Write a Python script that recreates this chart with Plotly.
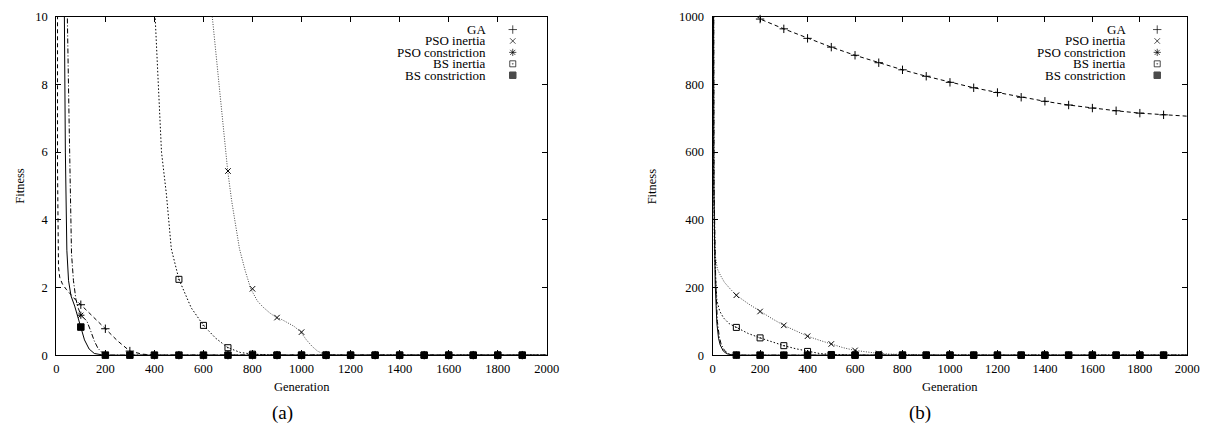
import plotly.graph_objects as go

# ---------------- data ----------------
SERIES = ["GA", "PSO inertia", "PSO constriction", "BS inertia", "BS constriction"]
GENS = [100, 200, 300, 400, 500, 600, 700, 800, 900, 1000,
        1100, 1200, 1300, 1400, 1500, 1600, 1700, 1800, 1900]
X_TICKS = [0, 200, 400, 600, 800, 1000, 1200, 1400, 1600, 1800, 2000]
Y_TICKS_A = [0, 2, 4, 6, 8, 10]
Y_TICKS_B = [0, 200, 400, 600, 800, 1000]

# panel (a) curves
a_ga_x = [0, 2, 5, 7, 9, 14, 25, 40, 60, 80, 100, 150, 200, 250, 300, 350, 400, 2000]
a_ga_y = [1000, 10, 5.5, 4, 2.6, 2.3, 2.1, 1.95, 1.78, 1.62, 1.49, 1.15, 0.78, 0.42, 0.12, 0.03, 0, 0]
a_psoi_x = [0, 600, 636, 660, 699, 715, 747, 770, 793, 820, 843, 870, 897, 920, 943, 970, 997,
            1020, 1043, 1065, 1082, 1100, 1150, 2000]
a_psoi_y = [1000, 14, 10, 8.3, 5.44, 4.56, 3.14, 2.5, 1.96, 1.6, 1.42, 1.25, 1.11, 1.05, 0.96, 0.85,
            0.68, 0.45, 0.26, 0.12, 0.06, 0.02, 0, 0]
a_psoc_x = [0, 45, 52, 58, 62, 70, 80, 90, 100, 112, 125, 140, 155, 170, 185, 200, 220, 2000]
a_psoc_y = [1000, 10, 7, 4.3, 3, 2.2, 1.65, 1.38, 1.18, 1.1, 1.0, 0.72, 0.42, 0.2, 0.09, 0.02, 0, 0]
a_bsi_x = [0, 380, 403, 429, 449, 469, 500, 550, 600, 650, 700, 750, 800, 850, 900, 2000]
a_bsi_y = [1000, 14, 10, 6, 4.75, 3.14, 2.24, 1.4, 0.88, 0.5, 0.22, 0.08, 0.03, 0.01, 0, 0]
a_bsc_x = [0, 33, 37, 40, 43, 50, 60, 75, 90, 100, 115, 134, 155, 185, 200, 2000]
a_bsc_y = [1000, 10, 6, 4.3, 3.1, 2.2, 1.75, 1.45, 1.05, 0.83, 0.45, 0.18, 0.05, 0.01, 0, 0]

# panel (a) point values at GENS (None = above the plotted range)
a_ga_pts = [1.49, 0.78, 0.12, 0, 0, 0, 0, 0, 0, 0, 0, 0, 0, 0, 0, 0, 0, 0, 0]
a_psoi_pts = [None, None, None, None, None, None, 5.44, 1.96, 1.11, 0.68, 0.02, 0, 0, 0, 0, 0, 0, 0, 0]
a_psoc_pts = [1.18, 0.02, 0, 0, 0, 0, 0, 0, 0, 0, 0, 0, 0, 0, 0, 0, 0, 0, 0]
a_bsi_pts = [None, None, None, None, 2.24, 0.88, 0.22, 0.03, 0, 0, 0, 0, 0, 0, 0, 0, 0, 0, 0]
a_bsc_pts = [0.83, 0, 0, 0, 0, 0, 0, 0, 0, 0, 0, 0, 0, 0, 0, 0, 0, 0, 0]

# panel (b) curves
b_ga_x = [0, 100, 185, 200, 300, 400, 500, 600, 700, 800, 900, 1000, 1100, 1200, 1300, 1400,
          1500, 1600, 1700, 1800, 1900, 2000]
b_ga_y = [2000, 1035, 1002, 993, 964, 936, 910, 886, 864, 843, 824, 806, 790, 776, 762, 750,
          739, 730, 722, 715, 710, 706]
b_psoi_x = [0, 3, 6, 11, 20, 32, 50, 75, 100, 150, 200, 250, 300, 350, 400, 450, 500, 550, 600,
            650, 700, 750, 800, 900, 1000, 2000]
b_psoi_y = [3000, 800, 450, 295, 255, 237, 215, 195, 177, 152, 129, 108, 88, 71, 56, 44, 33, 22, 14,
            9, 5, 3, 1.5, 0.3, 0, 0]
b_psoc_x = [0, 6, 13, 20, 28, 36, 50, 65, 85, 110, 130, 2000]
b_psoc_y = [3000, 500, 220, 100, 55, 32, 14, 5, 1.2, 0.2, 0, 0]
b_bsi_x = [0, 3, 8, 18, 30, 46, 70, 100, 150, 200, 250, 300, 350, 400, 450, 500, 550, 600, 700, 2000]
b_bsi_y = [3000, 600, 300, 161, 130, 110, 93, 82, 64, 51, 39, 28, 19, 11, 5, 2, 0.8, 0.2, 0, 0]
b_bsc_x = [0, 5, 11, 18, 25, 32, 45, 60, 80, 100, 120, 2000]
b_bsc_y = [3000, 500, 209, 94, 50, 30, 12, 4, 1, 0.2, 0, 0]

b_ga_pts = [None, 993, 964, 936, 910, 886, 864, 843, 824, 806, 790, 776, 762, 750, 739, 730, 722, 715, 710]
b_psoi_pts = [177, 129, 88, 56, 33, 14, 5, 1.5, 0.3, 0, 0, 0, 0, 0, 0, 0, 0, 0, 0]
b_psoc_pts = [0.2, 0, 0, 0, 0, 0, 0, 0, 0, 0, 0, 0, 0, 0, 0, 0, 0, 0, 0]
b_bsi_pts = [82, 51, 28, 11, 2, 0.2, 0, 0, 0, 0, 0, 0, 0, 0, 0, 0, 0, 0, 0]
b_bsc_pts = [0.2, 0, 0, 0, 0, 0, 0, 0, 0, 0, 0, 0, 0, 0, 0, 0, 0, 0, 0]

# ---------------- styles ----------------
FONT = "Liberation Serif"
W, H = 1225, 436
STYLE = {
    "GA": dict(dash="4px,3px", color="black", symbol="cross-thin-open", size=6),
    "PSO inertia": dict(dash="1px,1.5px", color="#444444", symbol="x-thin-open", size=5.5),
    "PSO constriction": dict(dash="5px,2px,1px,2px", color="black", symbol="asterisk-open", size=6),
    "BS inertia": dict(dash="1.5px,2px", color="black", symbol="square-open-dot", size=6),
    "BS constriction": dict(dash="solid", color="black", symbol="square", size=6.5),
}

panels = [
    dict(xa="x", ya="y", ymax=10, curves=[(a_ga_x, a_ga_y), (a_psoi_x, a_psoi_y), (a_psoc_x, a_psoc_y),
                                           (a_bsi_x, a_bsi_y), (a_bsc_x, a_bsc_y)],
         pts=[a_ga_pts, a_psoi_pts, a_psoc_pts, a_bsi_pts, a_bsc_pts]),
    dict(xa="x2", ya="y2", ymax=1000, curves=[(b_ga_x, b_ga_y), (b_psoi_x, b_psoi_y), (b_psoc_x, b_psoc_y),
                                               (b_bsi_x, b_bsi_y), (b_bsc_x, b_bsc_y)],
         pts=[b_ga_pts, b_psoi_pts, b_psoc_pts, b_bsi_pts, b_bsc_pts]),
]

fig = go.Figure()
for p in panels:
    for name, (cx, cy), pv in zip(SERIES, p["curves"], p["pts"]):
        st = STYLE[name]
        fig.add_trace(go.Scatter(x=cx, y=cy, mode="lines", xaxis=p["xa"], yaxis=p["ya"],
                                 line=dict(color=st["color"], width=1, dash=st["dash"]),
                                 showlegend=False, hoverinfo="skip", name=name))
        px = [g for g, v in zip(GENS, pv) if v is not None and v <= p["ymax"]]
        py = [v for v in pv if v is not None and v <= p["ymax"]]
        fig.add_trace(go.Scatter(x=px, y=py, mode="markers", xaxis=p["xa"], yaxis=p["ya"],
                                 cliponaxis=False, showlegend=False, name=name,
                                 marker=dict(symbol=st["symbol"], size=st["size"], color="black",
                                             line=dict(color="black", width=1))))

# legend keys (layout, in pixel space of an overlay axis)
LEG_TEXT_RIGHT = [491.5, 1139.5]
LEG_KEY_X = [516.5, 1169.5]
LEG_ROW0, LEG_DY = 23.3, 11.8
rows = [LEG_ROW0 + i * LEG_DY for i in range(len(SERIES))]
for kx in LEG_KEY_X:
    fig.add_trace(go.Scatter(x=[kx] * len(SERIES), y=rows, mode="markers", xaxis="x3", yaxis="y3",
                             cliponaxis=False, showlegend=False, hoverinfo="skip",
                             marker=dict(symbol=[STYLE[s]["symbol"] for s in SERIES],
                                         size=[STYLE[s]["size"] for s in SERIES], color="black",
                                         line=dict(color="black", width=1))))

annotations = []
for tx in LEG_TEXT_RIGHT:
    for s, ry in zip(SERIES, rows):
        annotations.append(dict(x=tx / W, y=1 - ry / H, xref="paper", yref="paper", text=s,
                                showarrow=False, xanchor="right", yanchor="middle",
                                font=dict(family=FONT, size=13, color="black")))

# plot boxes (pixels)
BOX_A = (54, 551, 10, 359.7)
BOX_B = (719, 1200, 10, 359.7)

def xdom(b):
    return [b[0] / W, b[1] / W]

def ydom(b):
    return [1 - b[3] / H, 1 - b[2] / H]

for b, cap, capx, fitx in [(BOX_A, "(a)", 283, 17), (BOX_B, "(b)", 929, 657)]:
    annotations.append(dict(x=(b[0] + b[1]) / 2 / W, y=1 - 393 / H, xref="paper", yref="paper",
                            text="Generation", showarrow=False, xanchor="center", yanchor="middle",
                            font=dict(family=FONT, size=12.5, color="black")))
    annotations.append(dict(x=fitx / W, y=1 - (b[2] + b[3]) / 2 / H, xref="paper", yref="paper",
                            text="Fitness", showarrow=False, textangle=-90, xanchor="center",
                            yanchor="middle", font=dict(family=FONT, size=12.5, color="black")))
    annotations.append(dict(x=capx / W, y=1 - 419 / H, xref="paper", yref="paper", text=cap,
                            showarrow=False, xanchor="center", yanchor="middle",
                            font=dict(family=FONT, size=19, color="black")))

axis_common = dict(ticks="inside", ticklen=5, tickwidth=1, tickcolor="black", showline=True,
                   linecolor="black", linewidth=1, mirror="allticks", showgrid=False, zeroline=False,
                   tickfont=dict(family=FONT, size=12.5, color="black"), fixedrange=True)

fig.update_layout(
    width=W, height=H, margin=dict(l=0, r=0, t=0, b=0),
    paper_bgcolor="white", plot_bgcolor="rgba(0,0,0,0)", showlegend=False,
    xaxis=dict(domain=xdom(BOX_A), range=[0, 2000], tickvals=X_TICKS, anchor="y",
               ticklabelstandoff=2, **axis_common),
    yaxis=dict(domain=ydom(BOX_A), range=[0, 10], tickvals=Y_TICKS_A, anchor="x",
               ticklabelstandoff=5, **axis_common),
    xaxis2=dict(domain=xdom(BOX_B), range=[0, 2000], tickvals=X_TICKS, anchor="y2",
                ticklabelstandoff=2, **axis_common),
    yaxis2=dict(domain=ydom(BOX_B), range=[0, 1000], tickvals=Y_TICKS_B, anchor="x2",
                ticklabelstandoff=5, **axis_common),
    xaxis3=dict(domain=[0, 1], range=[0, W], visible=False, fixedrange=True, anchor="y3"),
    yaxis3=dict(domain=[0, 1], range=[H, 0], visible=False, fixedrange=True, anchor="x3"),
    annotations=annotations,
)

fig.write_html("out.html", config={"displayModeBar": False},
               post_script="document.body.style.margin='0';document.body.style.overflow='hidden';")
